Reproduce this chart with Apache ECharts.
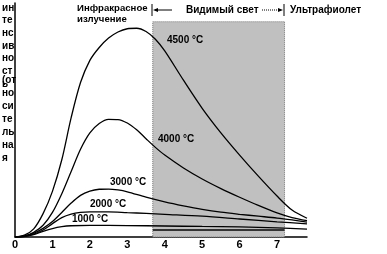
<!DOCTYPE html>
<html><head><meta charset="utf-8">
<script src="https://cdn.jsdelivr.net/npm/echarts@6/dist/echarts.min.js"></script>
<style>html,body{margin:0;padding:0;background:#fff}#c{width:387px;height:254px}</style>
</head><body><div id="c"></div>
<script>
// x: relative frequency units, y: relative intensity (0-100)
const xTicks = [0,1,2,3,4,5,6,7];
const curveNames = ['4500 °C','4000 °C','3000 °C','2000 °C','1000 °C'];
const x4500 = [0,0.25,0.5,0.75,1.0,1.25,1.5,1.75,2.0,2.25,2.5,2.75,3.0,3.25,3.5,3.75,4.0,4.5,5.0,5.5,6.0,6.5,7.0,7.4,7.8];
const y4500 = [0,0.8,3.5,10,19.5,33,51,66,75.5,81,85,87.6,89,89.2,87.8,84.5,79.5,67,55,44.5,35,26,17.5,11.5,8];
const x4000 = [0,0.25,0.5,0.75,1.0,1.25,1.5,1.75,2.0,2.25,2.5,2.75,3.0,3.25,3.5,3.75,4.0,4.5,5.0,5.5,6.0,6.5,7.0,7.4,7.8];
const y4000 = [0,0.5,2,5,10.5,18.5,28,37.5,44.5,48.5,50.3,50.2,48.7,45.8,42,38.3,35,29.5,24.8,20.7,17,13.5,10.3,8.3,7];
const x3000 = [0,0.25,0.5,0.75,1.0,1.25,1.5,1.75,2.0,2.25,2.5,2.75,3.0,3.5,4.0,4.5,5.0,5.5,6.0,6.5,7.0,7.4,7.8];
const y3000 = [0,0.4,1.6,3.7,6.6,10.5,14.5,17.8,19.6,20.4,20.5,20.1,19.3,17,15,13.3,11.8,10.6,9.7,8.9,8.1,7.3,6.4];
const x2000 = [0,0.25,0.5,0.75,1.0,1.25,1.5,1.75,2.0,2.5,3.0,3.5,4.0,5.0,6.0,7.0,7.8];
const y2000 = [0,0.3,1.2,3,5.7,8.3,9.8,10.5,10.7,10.7,10.4,10.1,9.7,8.9,7.7,6.5,5.6];
const x1000 = [0,0.25,0.5,0.75,1.0,1.25,1.5,2.0,3.0,4.0,5.0,6.0,7.0,7.8];
const y1000 = [0,0.2,1.0,2.4,3.6,4.4,4.8,5.0,4.9,4.7,4.5,4.3,3.9,3.4];
const visibleBand = [3.68, 7.2];   // x range of visible light
const bandTop = 92;
const bandLine = 3.2;
const yLabelA = ['ин','те','нс','ив','но','ст','ь'];
const yLabelB = ['(от','но','си','те','ль','на','я'];
const regionLabels = ['Инфракрасное\nизлучение','Видимый свет','Ультрафиолет'];

const xs = [x4500,x4000,x3000,x2000,x1000];
const ys = [y4500,y4000,y3000,y2000,y1000];
const F = 'Liberation Sans, Arial, sans-serif';
const chart = echarts.init(document.getElementById('c'));
const series = [{
  type:'line', data:[], z:1, silent:true,
  markArea:{silent:true, itemStyle:{color:'#c0c0c0', borderColor:'#777', borderWidth:1, borderType:'dotted'},
    data:[[{xAxis:visibleBand[0], yAxis:0},{xAxis:visibleBand[1], yAxis:bandTop}]]},
  markLine:{silent:true, symbol:'none', label:{show:false}, lineStyle:{color:'#333', width:2, type:'solid'},
    data:[[{coord:[visibleBand[0],bandLine]},{coord:[visibleBand[1],bandLine]}]]}
}];
curveNames.forEach((n,i)=>{
  series.push({name:n, type:'line', smooth:0.3, symbol:'none', z:3, silent:true,
    lineStyle:{color:'#000', width:1.3},
    data: xs[i].map((x,j)=>[x, ys[i][j]])});
});
const t = (text,x,y,extra)=>({type:'text', x, y, z:100, style:Object.assign({text, fill:'#000', font:'bold 10px '+F, textVerticalAlign:'middle'}, extra||{})});
const graphic = [
  t(yLabelA.join('\n'), 2, 46, {lineHeight:12.7}),
  t(yLabelB.join('\n'), 2, 119, {lineHeight:13}),
  t(regionLabels[0], 77, 14, {lineHeight:11, font:'bold 9.6px '+F}),
  t(regionLabels[1], 186, 10),
  t(regionLabels[2], 290, 10),
  {type:'line', z:100, shape:{x1:152,y1:4,x2:152,y2:16}, style:{stroke:'#000', lineWidth:1}},
  {type:'line', z:100, shape:{x1:155,y1:10,x2:172,y2:10}, style:{stroke:'#000', lineWidth:1}},
  {type:'polygon', z:100, shape:{points:[[153,10],[158,8],[158,12]]}, style:{fill:'#000'}},
  {type:'line', z:100, shape:{x1:262,y1:10,x2:280,y2:10}, style:{stroke:'#000', lineWidth:1, lineDash:[1,1]}},
  {type:'polygon', z:100, shape:{points:[[283,10],[278,8],[278,12]]}, style:{fill:'#000'}},
  {type:'line', z:100, shape:{x1:284,y1:4,x2:284,y2:16}, style:{stroke:'#000', lineWidth:1}},
  t(curveNames[0], 167, 40),
  t(curveNames[1], 158, 139),
  t(curveNames[2], 110, 182),
  t(curveNames[3], 90, 204),
  t(curveNames[4], 72, 219)
];
chart.setOption({
  animation:false,
  grid:{left:15, right:80, top:3, bottom:17},
  xAxis:{type:'value', min:0, max:7.8, interval:1,
    axisLine:{lineStyle:{color:'#000', width:1.5}}, axisTick:{show:false}, splitLine:{show:false},
    axisLabel:{color:'#000', fontWeight:'bold', fontSize:11, fontFamily:F, margin:2, showMaxLabel:false,
      formatter:v=> xTicks.includes(v) ? String(v) : ''}},
  yAxis:{type:'value', min:0, max:100,
    axisLine:{show:true, lineStyle:{color:'#000', width:1.5}}, axisTick:{show:false},
    axisLabel:{show:false}, splitLine:{show:false}},
  series, graphic
});
</script></body></html>
